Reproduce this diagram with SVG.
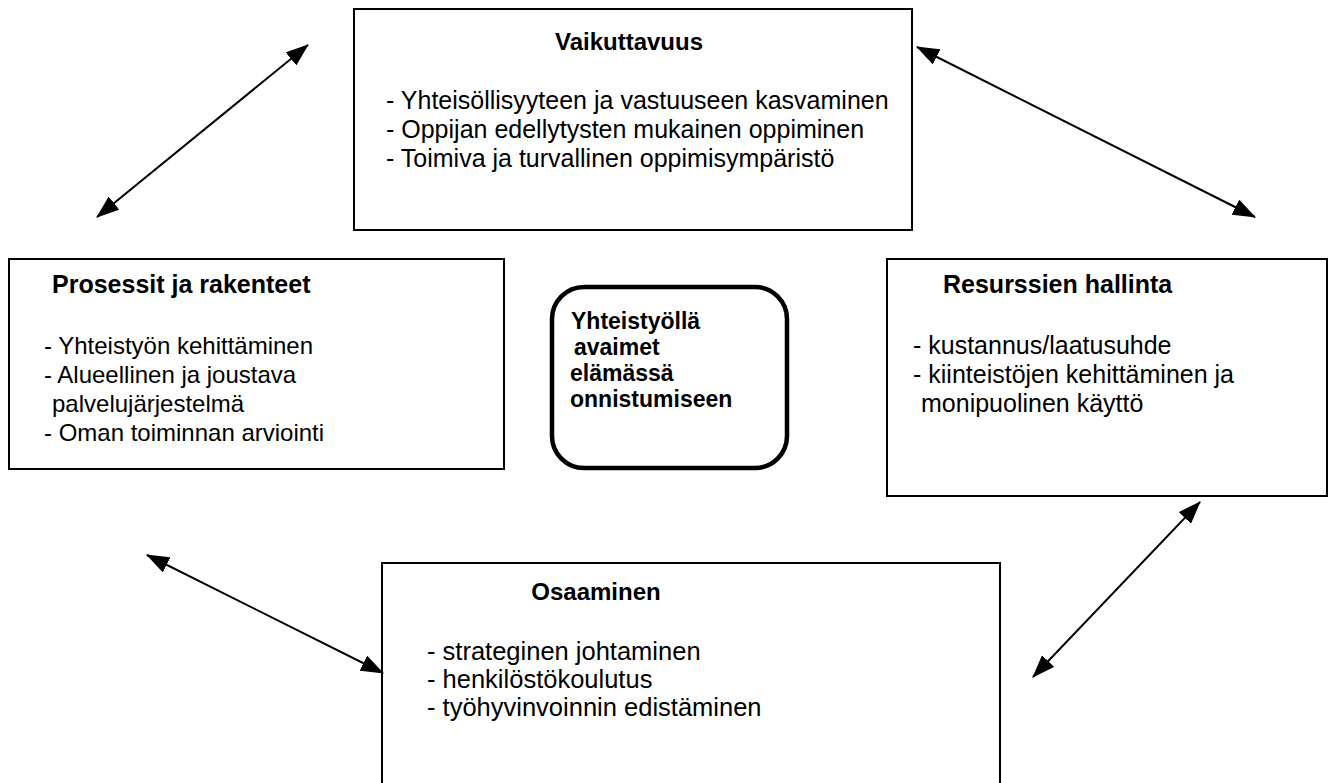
<svg xmlns="http://www.w3.org/2000/svg" width="1335" height="783" viewBox="0 0 1335 783">
<defs>
<style>
.box{fill:#fff;stroke:#000;stroke-width:2}
.hub{fill:#fff;stroke:#000;stroke-width:4.5}
text{font-family:"Liberation Sans",Arial,sans-serif;fill:#000}
.t{font-size:25px}
.b{font-size:24px;font-weight:bold}
.c{font-size:23px;font-weight:bold}
.arr{stroke:#000;stroke-width:2;fill:none;marker-start:url(#ah);marker-end:url(#ah)}
</style>
<marker id="ah" markerUnits="userSpaceOnUse" markerWidth="23" markerHeight="17" refX="22" refY="8.5" orient="auto-start-reverse" viewBox="0 0 23 17">
<path d="M0,0 L23,8.5 L0,17 z" fill="#000"/>
</marker>
</defs>
<rect width="1335" height="783" fill="#fff"/>
<g id="vaikuttavuus">
<rect class="box" x="354" y="9" width="558" height="221"/>
<text class="b" x="629" y="50" text-anchor="middle">Vaikuttavuus</text>
<text class="t" x="386" y="109">- Yhteisöllisyyteen ja vastuuseen kasvaminen</text>
<text class="t" x="386" y="138">- Oppijan edellytysten mukainen oppiminen</text>
<text class="t" x="386" y="167">- Toimiva ja turvallinen oppimisympäristö</text>
</g>
<g id="prosessit">
<rect class="box" x="9" y="259" width="495" height="210"/>
<text class="b" x="52" y="293" style="font-size:25px">Prosessit ja rakenteet</text>
<text class="t" x="44" y="354" style="font-size:24px">- Yhteistyön kehittäminen</text>
<text class="t" x="44" y="383" style="font-size:24px">- Alueellinen ja joustava</text>
<text class="t" x="52" y="412" style="font-size:24px">palvelujärjestelmä</text>
<text class="t" x="44" y="441" style="font-size:24px">- Oman toiminnan arviointi</text>
</g>
<g id="keskus">
<rect class="hub" x="552" y="287" width="235" height="181" rx="32" ry="32"/>
<text class="c" x="571" y="329">Yhteistyöllä</text>
<text class="c" x="574" y="355">avaimet</text>
<text class="c" x="570" y="381">elämässä</text>
<text class="c" x="570" y="407">onnistumiseen</text>
</g>
<g id="resurssit">
<rect class="box" x="887" y="259" width="440" height="237"/>
<text class="b" x="943" y="293" style="font-size:25px">Resurssien hallinta</text>
<text class="t" x="913" y="354">- kustannus/laatusuhde</text>
<text class="t" x="913" y="383">- kiinteistöjen kehittäminen ja</text>
<text class="t" x="921" y="412">monipuolinen käyttö</text>
</g>
<g id="osaaminen">
<rect class="box" x="382" y="563" width="618" height="240"/>
<text class="b" x="596" y="600" text-anchor="middle">Osaaminen</text>
<text class="t" x="427" y="660" style="font-size:25.5px">- strateginen johtaminen</text>
<text class="t" x="427" y="688" style="font-size:25.5px">- henkilöstökoulutus</text>
<text class="t" x="427" y="716" style="font-size:25.5px">- työhyvinvoinnin edistäminen</text>
</g>
<g id="connectors">
<line class="arr" x1="308" y1="45" x2="97" y2="217"/>
<line class="arr" x1="917" y1="47" x2="1255" y2="217"/>
<line class="arr" x1="147" y1="555" x2="383" y2="673"/>
<line class="arr" x1="1200" y1="502" x2="1033" y2="677"/>
</g>
</svg>
